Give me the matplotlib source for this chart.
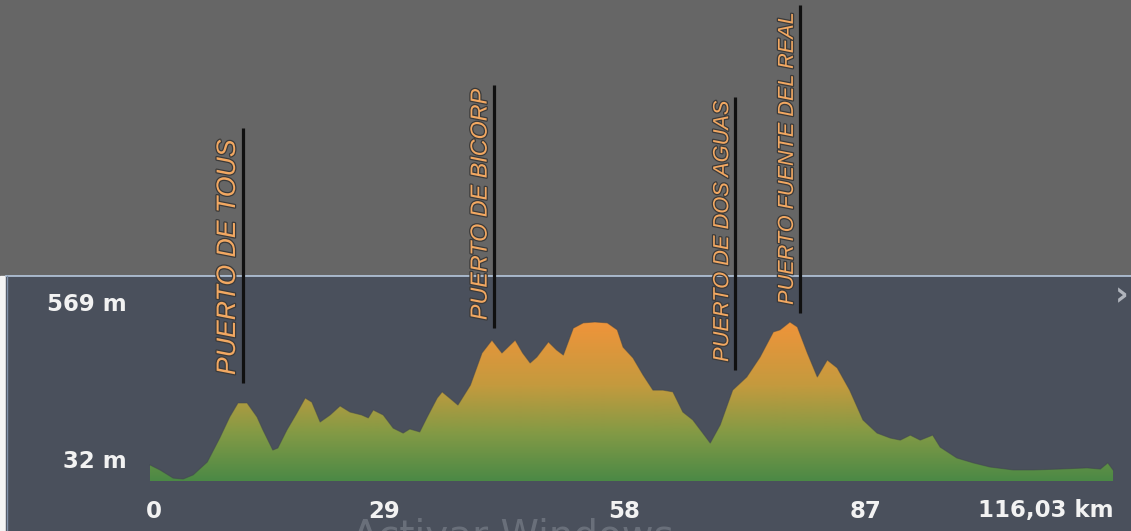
import matplotlib
matplotlib.use('Agg')
from matplotlib import pyplot as plt
from matplotlib.colors import LinearSegmentedColormap
from matplotlib.patches import Rectangle
import matplotlib.patheffects as pe
import matplotlib.transforms as mtrans
import numpy as np

# elevation profile (km, m)
km = [0, 1.2, 2.8, 4.0, 5.2, 6.9, 8.4, 9.6, 10.6, 11.7, 12.9, 13.6, 14.8, 15.4,
      16.5, 17.7, 18.7, 19.5, 20.5, 21.7, 22.9, 24.1, 25.5, 26.3, 26.9, 28.1,
      29.3, 30.5, 31.3, 32.5, 33.4, 34.6, 35.2, 36.1, 37.1, 38.6, 40.0, 41.2,
      42.4, 44.0, 44.9, 45.8, 46.6, 48.0, 49.0, 49.8, 51.0, 52.2, 53.6, 55.1,
      56.3, 57.0, 58.2, 59.4, 60.6, 61.8, 63.0, 64.2, 65.4, 66.6, 67.5, 68.7,
      70.2, 71.9, 73.5, 75.1, 75.9, 77.1, 78.0, 79.2, 80.4, 81.6, 82.8, 84.3,
      85.9, 87.6, 89.2, 90.4, 91.6, 92.8, 94.3, 95.2, 97.2, 99.2, 101.2, 104.0,
      106.4, 109.6, 112.9, 114.5, 115.4, 116.03]
elev = [80, 63, 35, 32, 46, 90, 172, 244, 292, 292, 244, 200, 131, 138,
        200, 258, 309, 295, 227, 251, 282, 261, 251, 241, 268, 251,
        206, 189, 203, 193, 244, 309, 330, 309, 285, 353, 463, 507,
        463, 507, 463, 429, 449, 501, 473, 456, 548, 566, 569, 566,
        542, 483, 446, 388, 336, 336, 330, 261, 234, 189, 155, 217,
        336, 381, 449, 535, 542, 569, 552, 463, 381, 439, 412, 336,
        234, 189, 172, 165, 182, 165, 182, 141, 104, 87, 73, 63,
        63, 66, 70, 66, 87, 63]

# mountain passes: name, km, top / bottom of the marker line (m)
pass_names = ['PUERTO DE TOUS', 'PUERTO DE BICORP', 'PUERTO DE DOS AGUAS',
              'PUERTO FUENTE DEL REAL']
pass_km = [11.2, 41.4, 70.5, 78.3]
pass_top = [1232, 1379, 1338, 1653]
pass_bottom = [360, 548, 405, 600]
pass_size = [19.2, 16.8, 15.7, 15.6]

x_ticks = [0, 29, 58, 87, 116.03]
x_labels = ['0', '29', '58', '87', '116,03 km']
y_ticks = [569, 32]
y_labels = ['569 m', '32 m']
base = 25

fig = plt.figure(figsize=(11.31, 5.31), dpi=100)
fig.patch.set_facecolor('#666666')
ax = fig.add_axes([0, 0, 1, 1])
ax.axis('off')

# backgrounds (axes fraction)
panel_top = 1 - 276 / 531
ax.add_patch(Rectangle((0, 0), 1, panel_top, transform=ax.transAxes,
                       color='#f4f4f4', zorder=0))
ax.add_patch(Rectangle((6 / 1131, 0), 1, panel_top, transform=ax.transAxes,
                       color='#4a505c', zorder=0.1))
ax.plot([6 / 1131, 1], [panel_top, panel_top], transform=ax.transAxes,
        color='#b4c6dc', lw=1.2, zorder=0.2)
ax.plot([6.5 / 1131, 6.5 / 1131], [0, panel_top], transform=ax.transAxes,
        color='#8090a8', lw=1, zorder=0.2)

# gradient filled profile
cmap = LinearSegmentedColormap.from_list(
    'prof', [(0, '#4b8946'), (0.3, '#839a45'), (0.6, '#c49a3e'), (1, '#f0943a')])
poly = ax.fill_between(km, base, elev, color='none', lw=0)
grad = np.linspace(0, 1, 256).reshape(-1, 1)
im = ax.imshow(grad, cmap=cmap, origin='lower', aspect='auto',
               extent=[0, km[-1], base, max(elev)], zorder=1)
im.set_clip_path(poly.get_paths()[0], transform=ax.transData)
ax.plot(km, elev, color='#3e444c', lw=0.8, alpha=0.5, zorder=1.1)

ax.set_xlim(-150 / 8.30, 981 / 8.30)
ax.set_ylim(32 - 52 * 3.42, 32 + 479 * 3.42)

# pass markers
for name, k, top, bot, fs in zip(pass_names, pass_km, pass_top, pass_bottom, pass_size):
    ax.plot([k, k], [bot, top], color='#101010', lw=2.3, zorder=3,
            solid_capstyle='butt')
    tr = mtrans.offset_copy(ax.transData, fig=fig, x=-2, y=8, units='dots')
    ax.text(k, bot, name, transform=tr, rotation=90, ha='right', va='bottom',
            fontsize=fs, fontstyle='italic', family='Liberation Sans',
            color='#f2a862', zorder=4,
            path_effects=[pe.withStroke(linewidth=1.8, foreground='#3a3a3a')])

# axis labels
lab = dict(color='#f2f2f2', fontsize=16.5, fontweight='bold', family='DejaVu Sans',
           zorder=5)
for i, (t, s) in enumerate(zip(x_ticks, x_labels)):
    if i == 0:
        ha, dx = 'left', -4
    elif i == len(x_ticks) - 1:
        ha, dx = 'right', 0
    else:
        ha, dx = 'center', -7
    tr = mtrans.offset_copy(ax.transData, fig=fig, x=dx, y=0, units='dots')
    ax.text(t, 32 - 32 * 3.42, s, transform=tr, ha=ha, va='center', **lab)
for t, s in zip(y_ticks, y_labels):
    tr = mtrans.offset_copy(ax.transData, fig=fig, x=-23, y=17, units='dots')
    ax.text(0, t, s, transform=tr, ha='right', va='center', **lab)

# chevron and faint watermark from the screenshot
ax.text(1122 / 1131, 1 - 296 / 531, '\u203a', transform=ax.transAxes,
        ha='center', va='center', color='#b0b4bc', fontsize=24, fontweight='bold')
ax.text(352 / 1131, 1 - 517 / 531, 'Activar Windows', transform=ax.transAxes,
        ha='left', va='top', color='#9aa0a8', alpha=0.4, fontsize=28, zorder=4.5)

plt.savefig('out.png', dpi=100, facecolor=fig.get_facecolor())
